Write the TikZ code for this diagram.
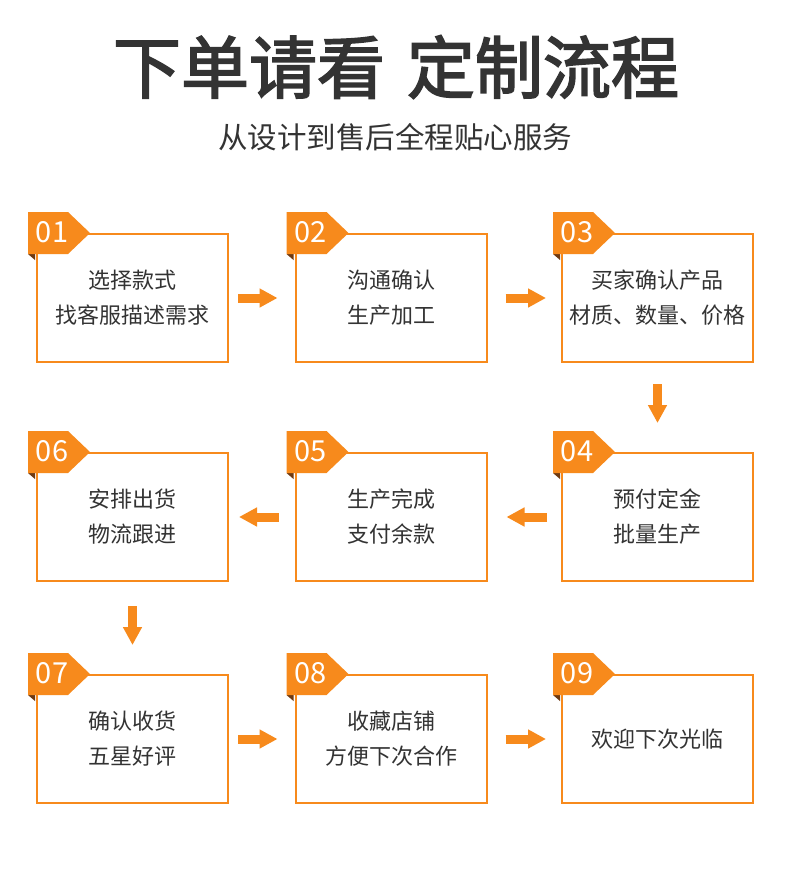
\documentclass[tikz,border=0pt]{standalone}
\usepackage{fontspec}
\setmainfont{Noto Sans CJK SC}
\newfontfamily\titlefont[FakeBold=2.5]{Noto Sans CJK SC}
\usetikzlibrary{arrows.meta}
\definecolor{org}{RGB}{247,138,28}
\definecolor{foldc}{RGB}{110,58,18}
\definecolor{txt}{RGB}{51,51,51}
\begin{document}
\begin{tikzpicture}[x=1pt,y=-1pt,
  stepbox/.style={draw=org, line width=2pt, minimum width=191pt, minimum height=128pt,
    inner sep=0pt, align=center, text=txt, font=\fontsize{22}{35}\selectfont},
  flow/.style={draw=org, line width=9pt, -{Triangle[length=18pt,width=18pt,fill=org]}},
  tagnum/.style={text=white, inner sep=0pt, font=\fontsize{29}{29}\selectfont},
]
\useasboundingbox[fill=white] (0,0) rectangle (790,873);

\node[text=txt, inner sep=0pt, font=\fontsize{68}{68}\selectfont\titlefont] (title) at (396,67) {下单请看\hspace{22pt}定制流程};
\node[text=txt, inner sep=0pt, font=\fontsize{29.5}{30}\selectfont] (sub) at (395,137) {从设计到售后全程贴心服务};

\node[stepbox] (b1) at (132.5,298) {选择款式\\找客服描述需求};
\node[stepbox] (b2) at (391,298) {沟通确认\\生产加工};
\node[stepbox] (b3) at (657.5,298) {买家确认产品\\材质、数量、价格};
\node[stepbox] (b6) at (132.5,517) {安排出货\\物流跟进};
\node[stepbox] (b5) at (391,517) {生产完成\\支付余款};
\node[stepbox] (b4) at (657.5,517) {预付定金\\批量生产};
\node[stepbox] (b7) at (132.5,739) {确认收货\\五星好评};
\node[stepbox] (b8) at (391,739) {收藏店铺\\方便下次合作};
\node[stepbox] (b9) at (657.5,739) {欢迎下次光临};

\foreach \b/\n in {b1/01,b2/02,b3/03,b4/04,b5/05,b6/06,b7/07,b8/08,b9/09}{
  \fill[foldc] ([xshift=-8pt,yshift=-21pt]\b.north west) -- ++(7,0) -- ++(0,6) -- cycle;
  \fill[org] ([xshift=-8pt,yshift=21pt]\b.north west) -- ++(40,0) -- ++(22,21) -- ++(-22,21) -- ++(-40,0) -- cycle;
  \node[tagnum] (t\n) at ([xshift=16pt,yshift=1pt]\b.north west) {\n};
}

\draw[flow, shorten <=9pt, shorten >=17pt] (b1) -- (b2);
\draw[flow, shorten <=18pt, shorten >=15pt] (b2) -- (b3);
\draw[flow, shorten <=21pt, shorten >=29pt] (b3) -- (b4);
\draw[flow, shorten <=14pt, shorten >=19pt] (b4) -- (b5);
\draw[flow, shorten <=16pt, shorten >=10pt] (b5) -- (b6);
\draw[flow, shorten <=24pt, shorten >=29pt] (b6) -- (b7);
\draw[flow, shorten <=9pt, shorten >=17pt] (b7) -- (b8);
\draw[flow, shorten <=18pt, shorten >=15pt] (b8) -- (b9);
\end{tikzpicture}
\end{document}
